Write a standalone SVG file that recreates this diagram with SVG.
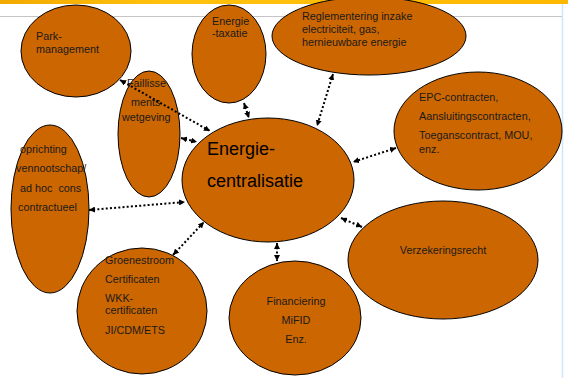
<svg xmlns="http://www.w3.org/2000/svg" width="568" height="378" viewBox="0 0 568 378">
<defs>
<linearGradient id="bar" x1="0" y1="0" x2="1" y2="0">
<stop offset="0" stop-color="#F2A900"/>
<stop offset="0.3" stop-color="#FFC20E"/>
<stop offset="1" stop-color="#FFB800"/>
</linearGradient>
<marker id="ah" viewBox="0 0 10 10" refX="10" refY="5" markerWidth="6" markerHeight="6" markerUnits="userSpaceOnUse" orient="auto-start-reverse">
<path d="M0,0 L10,5 L0,10 z" fill="#000"/>
</marker>
<style>
.n ellipse{fill:#CC6600;stroke:#000;stroke-width:1}
.t{font-family:"Liberation Sans",Arial,sans-serif;font-size:10.8px;fill:#1a1a1a}
.big{font-family:"Liberation Sans",Arial,sans-serif;font-size:18px;fill:#000}
.c line{stroke:#000;stroke-width:2;stroke-dasharray:2 2.2;marker-start:url(#ah);marker-end:url(#ah)}
</style>
</defs>
<rect x="0" y="0" width="568" height="378" fill="#fff"/>
<rect x="0" y="0" width="568" height="4" fill="url(#bar)"/>
<line x1="0" y1="16.5" x2="562" y2="16.5" stroke="#C4C4C4" stroke-width="1"/>
<line x1="562.5" y1="4" x2="562.5" y2="378" stroke="#CDE6FA" stroke-width="1.5"/>

<g id="park" class="n">
<ellipse cx="76" cy="51" rx="55" ry="46"/>
<text class="t" x="36" y="40">Park-</text>
<text class="t" x="36" y="53">management</text>
</g>
<g id="taxatie" class="n">
<ellipse cx="229" cy="54" rx="37" ry="49"/>
<text class="t" x="212" y="25">Energie</text>
<text class="t" x="212" y="37">-taxatie</text>
</g>
<g id="reglementering" class="n">
<ellipse cx="369" cy="36" rx="97" ry="39"/>
<text class="t" x="302" y="20">Reglementering inzake</text>
<text class="t" x="302" y="33">electriciteit, gas,</text>
<text class="t" x="302" y="46">hernieuwbare energie</text>
</g>
<g id="faillissement" class="n">
<ellipse cx="149" cy="134" rx="31" ry="63"/>
<text class="t" x="127" y="87">Faillisse</text>
<text class="t" x="131" y="106">ments</text>
<text class="t" x="122" y="121">wetgeving</text>
</g>
<g id="epc" class="n">
<ellipse cx="478" cy="131" rx="84" ry="59"/>
<text class="t" x="419" y="101">EPC-contracten,</text>
<text class="t" x="419" y="120">Aansluitingscontracten,</text>
<text class="t" x="419" y="139">Toeganscontract, MOU,</text>
<text class="t" x="419" y="153">enz.</text>
</g>
<g id="oprichting" class="n">
<ellipse cx="50" cy="209" rx="39" ry="84"/>
<text class="t" x="20" y="153">oprichting</text>
<text class="t" x="16" y="172">vennootschap/</text>
<text class="t" x="20" y="192" xml:space="preserve">ad hoc  cons</text>
<text class="t" x="18" y="211">contractueel</text>
</g>
<g id="groenestroom" class="n">
<ellipse cx="142" cy="311" rx="65" ry="63"/>
<text class="t" x="105" y="264">Groenestroom</text>
<text class="t" x="105" y="283">Certificaten</text>
<text class="t" x="105" y="302">WKK-</text>
<text class="t" x="105" y="314">certificaten</text>
<text class="t" x="105" y="334">JI/CDM/ETS</text>
</g>
<g id="financiering" class="n">
<ellipse cx="295" cy="318" rx="66" ry="57"/>
<text class="t" x="296" y="305" text-anchor="middle">Financiering</text>
<text class="t" x="296" y="324" text-anchor="middle">MiFID</text>
<text class="t" x="296" y="343" text-anchor="middle">Enz.</text>
</g>
<g id="verzekeringsrecht" class="n">
<ellipse cx="443" cy="260" rx="95" ry="59"/>
<text class="t" x="443" y="254" text-anchor="middle">Verzekeringsrecht</text>
</g>
<g id="centralisatie" class="n">
<ellipse cx="268" cy="180" rx="86" ry="62"/>
<text class="big" x="207" y="155">Energie-</text>
<text class="big" x="207" y="187">centralisatie</text>
</g>

<g id="connectors" class="c">
<line x1="120" y1="80" x2="210" y2="131"/>
<line x1="181" y1="138" x2="197" y2="142"/>
<line x1="244" y1="103" x2="249" y2="118"/>
<line x1="333" y1="74" x2="317" y2="126"/>
<line x1="396" y1="148" x2="353" y2="162"/>
<line x1="89" y1="210" x2="185" y2="202"/>
<line x1="173" y1="255" x2="204" y2="222"/>
<line x1="277" y1="243" x2="277" y2="261"/>
<line x1="341" y1="218" x2="362" y2="227"/>
</g>
</svg>
